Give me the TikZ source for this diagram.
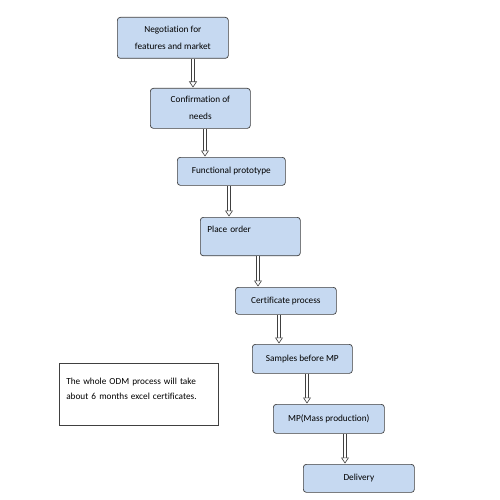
\documentclass[tikz,border=0pt]{standalone}
\usepackage{fontspec}
\setmainfont{Carlito}[Ligatures=NoCommon]
\usetikzlibrary{arrows.meta}
\definecolor{boxblue}{RGB}{198,217,241}
\definecolor{boxline}{RGB}{64,64,64}

\begin{document}
\begin{tikzpicture}[x=1pt, y=-1pt, font=\fontsize{9.25}{17}\selectfont]
            \tikzstyle{step box}=[draw=boxline, fill=boxblue, rounded corners=3pt, line width=0.7pt, anchor=north west, inner sep=0pt, align=center]
            \tikzstyle{note box}=[draw=boxline, line width=0.6pt, anchor=north west, inner xsep=7pt, inner ysep=9pt, align=left, text width=145pt, minimum height=62pt, text depth=26pt, font=\fontsize{9.25}{15}\selectfont]
            \tikzstyle{flow}=[double=white, double distance=2.4pt, line width=0.6pt, draw=boxline, -{Triangle[open, fill=white, line width=0.6pt, length=6pt, width=8pt]}, shorten >=0.5pt]

            \useasboundingbox[fill=white] (0,0) rectangle (500,500);

            \node[step box, minimum width=111pt, minimum height=41pt] (S_1) at (117,17) {Negotiation for\\features and market};
            \node[step box, minimum width=100pt, minimum height=40pt] (S_2) at (150,88) {Confirmation of\\needs};
            \node[step box, minimum width=108pt, minimum height=28pt] (S_3) at (177,157) {Functional prototype};
            \node[step box, text width=86pt, align=left, minimum height=38pt, inner xsep=7pt, inner ysep=9pt, text depth=14pt] (S_4) at (200,217) {Place order};
            \node[step box, minimum width=101pt, minimum height=27pt] (S_5) at (235,287) {Certificate process};
            \node[step box, minimum width=100pt, minimum height=29pt] (S_6) at (252,344) {Samples before MP};
            \node[step box, minimum width=111pt, minimum height=29pt] (S_7) at (273,404) {MP(Mass production)};
            \node[step box, minimum width=111pt, minimum height=28pt] (S_8) at (303,464) {Delivery};

            \node[note box] (N) at (59,363) {The whole ODM process will take about 6 months excel certificates.};

            \draw[flow] (S_1.south -| 193,0) -- (S_2.north -| 193,0);
            \draw[flow] (S_2.south -| 205,0) -- (S_3.north -| 205,0);
            \draw[flow] (S_3.south -| 229,0) -- (S_4.north -| 229,0);
            \draw[flow] (S_4.south -| 258,0) -- (S_5.north -| 258,0);
            \draw[flow] (S_5.south -| 279,0) -- (S_6.north -| 279,0);
            \draw[flow] (S_6.south -| 307,0) -- (S_7.north -| 307,0);
            \draw[flow] (S_7.south -| 345,0) -- (S_8.north -| 345,0);
\end{tikzpicture}
\end{document}
